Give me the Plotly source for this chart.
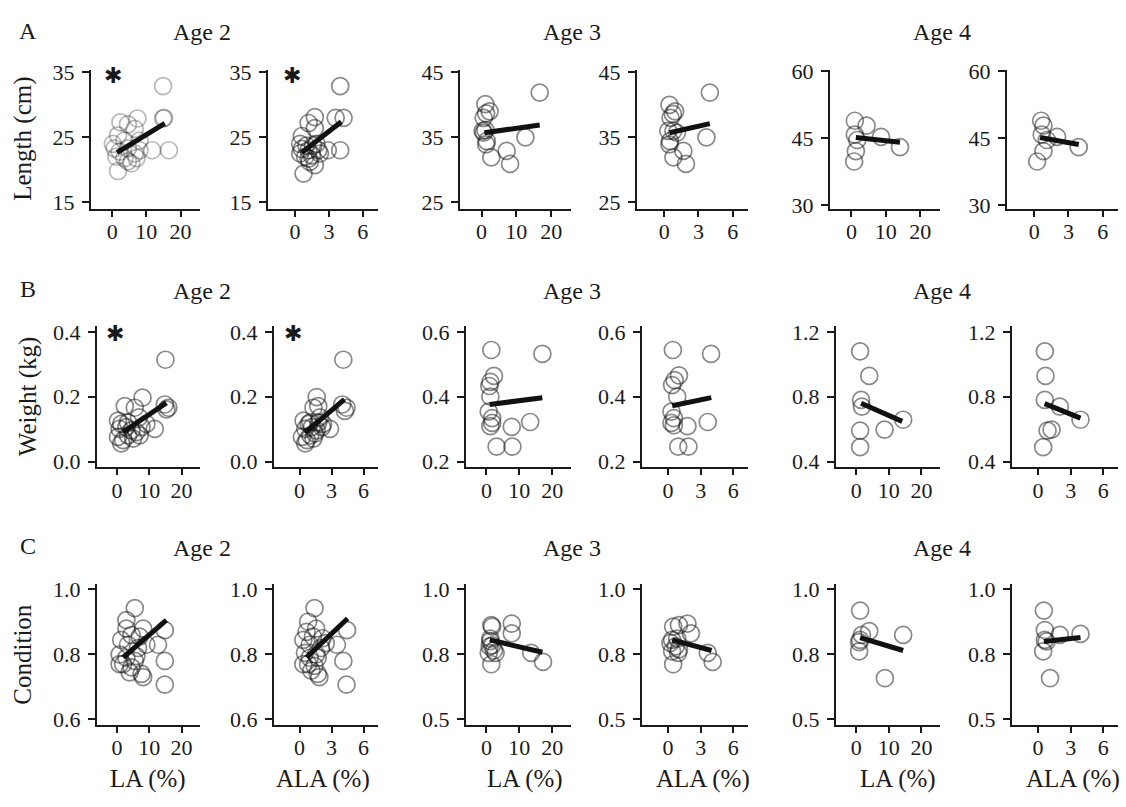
import plotly.graph_objects as go

# ---------------- data ----------------
# Row A: Length (cm)
A_age2_LA_x = [14.9, 14.9, 15.2, 16.6, 11.7, 7.4, 4.6, 2.4, 6.6, 1.7, 3.6, 8.0, 0.7, 2.2, 4.6, 6.6, 8.0, 1.2, 3.6, 5.6, 7.1, 1.7, 4.6, 0.2]
A_age2_LA_y = [32.9, 27.9, 28.0, 23.0, 23.0, 27.9, 27.0, 27.3, 26.3, 25.3, 24.5, 24.5, 23.3, 22.8, 23.3, 22.5, 23.0, 22.0, 21.8, 21.0, 21.8, 19.8, 21.3, 24.0]
A_age2_ALA_x = [4.0, 3.6, 4.3, 4.0, 2.9, 1.75, 1.2, 1.75, 0.6, 1.9, 0.6, 1.2, 1.6, 0.45, 0.9, 1.5, 2.05, 1.3, 1.75, 0.75, 1.0, 2.2, 0.45, 1.2]
A_age2_ALA_y = [32.9, 28.0, 28.0, 23.0, 23.0, 28.1, 27.2, 26.4, 25.2, 24.0, 23.2, 23.0, 23.7, 22.5, 22.0, 22.2, 23.0, 21.2, 20.7, 19.4, 23.7, 22.5, 24.0, 21.7]
A_age3_LA_x = [16.7, 12.6, 7.2, 8.2, 2.8, 1.3, 1.1, 2.3, 1.3, 0.6, 0.3, 1.1, 0.6, 1.5]
A_age3_LA_y = [41.9, 35.0, 32.9, 30.9, 31.9, 33.9, 40.1, 39.0, 38.7, 38.0, 36.0, 36.1, 35.7, 34.4]
A_age3_ALA_x = [4.0, 3.7, 1.67, 1.9, 0.8, 0.45, 0.45, 0.95, 0.55, 0.75, 0.35, 0.8, 1.1, 0.5]
A_age3_ALA_y = [41.9, 35.0, 32.9, 30.9, 31.9, 33.9, 40.0, 39.0, 38.0, 38.6, 36.0, 36.0, 35.7, 34.4]
A_age4_LA_x = [1.0, 4.4, 1.0, 1.7, 8.6, 14.1, 1.3, 0.8]
A_age4_LA_y = [48.9, 47.8, 45.8, 44.6, 45.3, 43.0, 42.1, 39.8]
A_age4_ALA_x = [0.6, 0.8, 0.65, 1.1, 2.0, 3.9, 0.8, 0.25]
A_age4_ALA_y = [48.9, 47.8, 45.8, 44.6, 45.3, 43.0, 42.1, 39.8]

# Row B: Weight (kg)
B_age2_LA_x = [15.0, 14.8, 15.9, 15.3, 11.7, 7.9, 2.4, 5.5, 6.8, 0.3, 1.3, 2.9, 0.8, 4.5, 6.0, 7.6, 3.4, 0.3, 1.9, 5.0, 3.4, 1.3, 9.1, 7.0]
B_age2_LA_y = [0.314, 0.176, 0.166, 0.161, 0.101, 0.197, 0.171, 0.166, 0.136, 0.126, 0.116, 0.106, 0.101, 0.096, 0.091, 0.106, 0.121, 0.076, 0.066, 0.071, 0.081, 0.056, 0.116, 0.081]
B_age2_ALA_x = [4.1, 4.0, 4.4, 4.25, 2.85, 1.6, 1.3, 1.75, 1.9, 0.37, 0.84, 1.15, 0.53, 1.6, 2.1, 1.45, 1.0, 0.22, 0.68, 1.3, 1.0, 0.53, 2.2, 1.75]
B_age2_ALA_y = [0.314, 0.176, 0.166, 0.156, 0.101, 0.199, 0.166, 0.171, 0.136, 0.126, 0.116, 0.106, 0.101, 0.096, 0.106, 0.086, 0.121, 0.076, 0.066, 0.071, 0.081, 0.056, 0.116, 0.121]
B_age3_LA_x = [17.0, 13.3, 7.7, 7.9, 3.1, 1.5, 2.3, 1.2, 0.9, 1.2, 0.7, 1.75, 1.75, 1.2]
B_age3_LA_y = [0.532, 0.322, 0.307, 0.246, 0.246, 0.544, 0.464, 0.446, 0.433, 0.400, 0.354, 0.334, 0.319, 0.309]
B_age3_ALA_x = [3.95, 3.65, 1.78, 1.87, 0.93, 0.44, 1.0, 0.6, 0.37, 0.84, 0.31, 0.53, 0.31, 0.53]
B_age3_ALA_y = [0.532, 0.322, 0.309, 0.246, 0.246, 0.544, 0.466, 0.451, 0.436, 0.400, 0.354, 0.334, 0.319, 0.312]
B_age4_LA_x = [1.2, 4.0, 1.5, 1.75, 1.2, 8.7, 14.4, 1.2]
B_age4_LA_y = [1.08, 0.928, 0.78, 0.739, 0.591, 0.597, 0.658, 0.489]
B_age4_ALA_x = [0.62, 0.68, 0.62, 2.0, 0.87, 1.24, 3.9, 0.47]
B_age4_ALA_y = [1.08, 0.928, 0.78, 0.739, 0.591, 0.597, 0.658, 0.489]

# Row C: Condition
C_age2_LA_x = [5.5, 2.9, 8.1, 2.9, 4.5, 1.3, 7.0, 9.1, 14.8, 12.7, 14.8, 14.8, 0.8, 2.9, 1.9, 4.5, 3.9, 7.6, 8.1, 6.0, 6.5, 3.4, 0.8, 5.5]
C_age2_LA_y = [0.942, 0.905, 0.879, 0.879, 0.859, 0.844, 0.854, 0.829, 0.874, 0.829, 0.779, 0.706, 0.799, 0.789, 0.769, 0.759, 0.744, 0.739, 0.729, 0.794, 0.819, 0.829, 0.769, 0.779]
C_age2_ALA_x = [1.4, 0.8, 1.55, 0.65, 1.25, 0.35, 2.15, 4.45, 3.5, 4.1, 4.4, 0.5, 0.95, 0.35, 1.4, 1.1, 1.7, 1.85, 1.7, 2.0, 0.95, 0.8, 1.55, 2.45]
C_age2_ALA_y = [0.942, 0.900, 0.879, 0.869, 0.854, 0.844, 0.849, 0.874, 0.829, 0.779, 0.706, 0.804, 0.789, 0.769, 0.764, 0.749, 0.739, 0.729, 0.789, 0.819, 0.829, 0.769, 0.799, 0.834]
C_age3_LA_x = [17.2, 13.6, 7.7, 7.7, 2.8, 1.5, 1.75, 1.2, 1.2, 1.75, 0.7, 2.3, 1.5, 1.0]
C_age3_LA_y = [0.720, 0.755, 0.868, 0.830, 0.755, 0.862, 0.856, 0.810, 0.800, 0.784, 0.755, 0.764, 0.711, 0.780]
C_age3_ALA_x = [4.1, 3.65, 1.78, 2.1, 0.93, 0.47, 1.0, 0.37, 0.22, 0.7, 0.37, 1.0, 0.47, 0.84]
C_age3_ALA_y = [0.720, 0.755, 0.868, 0.830, 0.755, 0.856, 0.862, 0.805, 0.793, 0.780, 0.761, 0.768, 0.711, 0.810]
C_age4_LA_x = [1.2, 4.0, 1.75, 1.2, 0.9, 0.9, 8.8, 14.4]
C_age4_LA_y = [0.918, 0.839, 0.824, 0.805, 0.796, 0.761, 0.657, 0.824]
C_age4_ALA_x = [0.53, 0.62, 0.62, 0.78, 0.47, 2.0, 3.9, 1.1]
C_age4_ALA_y = [0.918, 0.843, 0.805, 0.799, 0.761, 0.824, 0.828, 0.657]

# Fitted regression lines (end points)
A_age2_LA_fit_x, A_age2_LA_fit_y = [1.4, 15.4], [22.65, 27.15]
A_age2_ALA_fit_x, A_age2_ALA_fit_y = [0.6, 4.1], [22.65, 27.4]
A_age3_LA_fit_x, A_age3_LA_fit_y = [0.8, 16.7], [35.7, 36.9]
A_age3_ALA_fit_x, A_age3_ALA_fit_y = [0.45, 4.0], [35.7, 37.1]
A_age4_LA_fit_x, A_age4_LA_fit_y = [1.3, 14.1], [45.15, 44.1]
A_age4_ALA_fit_x, A_age4_ALA_fit_y = [0.5, 3.9], [45.15, 43.6]
B_age2_LA_fit_x, B_age2_LA_fit_y = [1.9, 15.3], [0.091, 0.181]
B_age2_ALA_fit_x, B_age2_ALA_fit_y = [0.53, 4.2], [0.089, 0.192]
B_age3_LA_fit_x, B_age3_LA_fit_y = [1.0, 17.0], [0.376, 0.397]
B_age3_ALA_fit_x, B_age3_ALA_fit_y = [0.375, 3.97], [0.372, 0.397]
B_age4_LA_fit_x, B_age4_LA_fit_y = [1.5, 14.1], [0.760, 0.648]
B_age4_ALA_fit_x, B_age4_ALA_fit_y = [0.6, 3.9], [0.757, 0.668]
C_age2_LA_fit_x, C_age2_LA_fit_y = [1.9, 15.3], [0.790, 0.905]
C_age2_ALA_fit_x, C_age2_ALA_fit_y = [0.65, 4.5], [0.790, 0.910]
C_age3_LA_fit_x, C_age3_LA_fit_y = [1.0, 17.0], [0.805, 0.757]
C_age3_ALA_fit_x, C_age3_ALA_fit_y = [0.375, 4.0], [0.805, 0.764]
C_age4_LA_fit_x, C_age4_LA_fit_y = [1.2, 14.4], [0.814, 0.764]
C_age4_ALA_fit_x, C_age4_ALA_fit_y = [0.53, 3.9], [0.799, 0.814]

# axis ticks
LA_ticks = [0, 10, 20]
ALA_ticks = [0, 3, 6]
A_ticks = {2: [15, 25, 35], 3: [25, 35, 45], 4: [30, 45, 60]}
B_ticks = {2: [0.0, 0.2, 0.4], 3: [0.2, 0.4, 0.6], 4: [0.4, 0.8, 1.2]}
C_ticks = {2: [0.6, 0.8, 1.0], 3: [0.5, 0.75, 1.0], 4: [0.5, 0.75, 1.0]}
row_titles = ["Length (cm)", "Weight (kg)", "Condition"]
age_titles = ["Age 2", "Age 3", "Age 4"]
panel_letters = ["A", "B", "C"]
x_titles = ["LA (%)", "ALA (%)"]

# ---------------- layout geometry ----------------
W, H = 1126, 807
FONT = "Liberation Serif"
INK = "#1a1a1a"

def px_x(v):
    return v / W

def px_y(v):
    return 1 - v / H

row_y = [(60, 203), (323, 468), (588, 732)]
col_x = [
    [(91, 200), (268, 378), (460, 571), (637, 748), (830, 940), (1007, 1118)],
    [(97, 200), (274, 378), (466, 571), (642, 748), (836, 940), (1012, 1118)],
    [(97, 200), (274, 378), (466, 571), (642, 748), (836, 940), (1012, 1118)],
]
LA_range = [-6.2, 25.7]
ALA_range = [-2.4, 7.35]
y_ranges = [
    {2: [13.95, 35.45], 3: [23.95, 45.45], 4: [29.2, 60.34]},
    {2: [-0.018, 0.418], 3: [0.182, 0.618], 4: [0.364, 1.236]},
    {2: [0.582, 1.015], 3: [0.477, 1.019], 4: [0.477, 1.019]},
]

g = globals()
fig = go.Figure()
layout_axes = {}
ticks_rows = [A_ticks, B_ticks, C_ticks]

def fmt(v, row):
    if row == 0:
        return str(int(v))
    return "%.1f" % v

for r, R in enumerate(["A", "B", "C"]):
    for a_i, age in enumerate([2, 3, 4]):
        for k, var in enumerate(["LA", "ALA"]):
            p = a_i * 2 + k
            idx = r * 6 + p + 1
            sfx = "" if idx == 1 else str(idx)
            xs = g[f"{R}_age{age}_{var}_x"]
            ys = g[f"{R}_age{age}_{var}_y"]
            fx = g[f"{R}_age{age}_{var}_fit_x"]
            fy = g[f"{R}_age{age}_{var}_fit_y"]
            alpha = 0.3 if (r == 0 and age == 2 and var == "LA") else 0.5
            fig.add_trace(go.Scatter(
                x=xs, y=ys, mode="markers", xaxis="x" + sfx, yaxis="y" + sfx,
                marker=dict(size=17, color="rgba(0,0,0,0)", symbol="circle",
                            line=dict(color=f"rgba(20,20,20,{alpha})", width=1.7)),
                showlegend=False, hoverinfo="x+y"))
            fig.add_trace(go.Scatter(
                x=fx, y=fy, mode="lines", xaxis="x" + sfx, yaxis="y" + sfx,
                line=dict(color="#111111", width=5), showlegend=False))
            x0, x1 = col_x[r][p]
            y0, y1 = row_y[r]
            tv = ticks_rows[r][age]
            layout_axes["xaxis" + sfx] = dict(
                domain=[px_x(x0), px_x(x1)], anchor="y" + sfx,
                range=LA_range if var == "LA" else ALA_range,
                tickvals=LA_ticks if var == "LA" else ALA_ticks,
                showline=True, linewidth=2, linecolor=INK, mirror=False,
                ticks="outside", ticklen=6, tickwidth=1.5, tickcolor=INK,
                showgrid=False, zeroline=False, ticklabelstandoff=-4,
                tickfont=dict(family=FONT, size=22, color=INK))
            layout_axes["yaxis" + sfx] = dict(
                domain=[px_y(y1), px_y(y0)], anchor="x" + sfx,
                range=y_ranges[r][age], tickvals=tv,
                ticktext=[fmt(v, r) for v in tv],
                showline=True, linewidth=2, linecolor=INK, mirror=False,
                ticks="outside", ticklen=7, tickwidth=1.5, tickcolor=INK,
                showgrid=False, zeroline=False, ticklabelstandoff=3,
                tickfont=dict(family=FONT, size=22, color=INK))

annotations = []

def note(text, xp, yp, size=24, angle=0, family=FONT):
    annotations.append(dict(text=text, x=px_x(xp), y=px_y(yp),
                            xref="paper", yref="paper", showarrow=False,
                            xanchor="center", yanchor="middle", textangle=angle,
                            font=dict(family=family, size=size, color=INK)))

title_y = [22, 287, 551]
age_x = [202, 572, 942]
for r in range(3):
    note(panel_letters[r], 28, title_y[r] - 2)
    for a_i in range(3):
        note(age_titles[a_i], age_x[a_i], title_y[r])
ytitle_pos = [(23, 131), (28, 396), (23, 660)]
for r in range(3):
    note(row_titles[r], ytitle_pos[r][0], ytitle_pos[r][1], size=25, angle=-90)
xt_pos = [148, 323, 525, 703, 898, 1073]
for i, xp in enumerate(xt_pos):
    note(x_titles[i % 2], xp, 788, size=25)
for (ax, ay) in [(113, 66), (292, 66), (115, 331), (293, 331)]:
    note("✱", ax, ay, size=22, family="DejaVu Sans")

fig.update_layout(
    width=W, height=H, margin=dict(l=0, r=0, t=0, b=0),
    paper_bgcolor="white", plot_bgcolor="white",
    annotations=annotations, **layout_axes)

fig.write_html("out.html", config={"displayModeBar": False},
               post_script="document.body.style.margin='0px';")
